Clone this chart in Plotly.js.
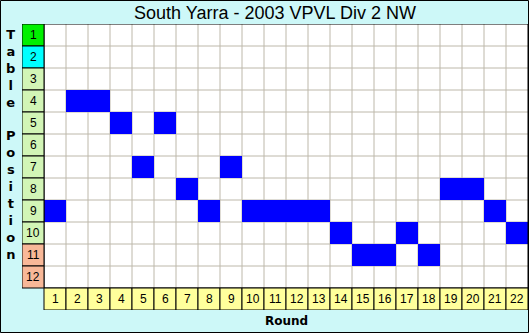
<!DOCTYPE html>
<html><head><meta charset="utf-8">
<script src="https://cdn.plot.ly/plotly-3.0.1.min.js"></script>
<style>html,body{margin:0;padding:0;background:#fff;overflow:hidden}</style>
</head><body><div id="chart" style="width:529px;height:333px"></div>
<script>
// ---- data ----
const rounds = [1,2,3,4,5,6,7,8,9,10,11,12,13,14,15,16,17,18,19,20,21,22];
const positions = [9,4,4,5,7,5,8,9,7,9,9,9,9,10,11,11,10,11,8,8,9,10];
const tablePositions = [1,2,3,4,5,6,7,8,9,10,11,12];
const roundLabels = ['1','2','3','4','5','6','7','8','9','10','11','12','13','14','15','16','17','18','19','20','21','22'];
const positionLabels = ['1','2','3','4','5','6','7','8','9','10','11','12'];
const titleText = 'South Yarra - 2003 VPVL Div 2 NW';
const xTitle = 'Round';
const yTitle = 'Table Position';

// ---- styles ----
const FONT = 'Liberation Sans, Arial, sans-serif';
const W = 529, H = 333, ML = 22, MR = 1, MT = 24, MB = 23;
const PW = W - ML - MR, PH = H - MT - MB;
const BG = '#cdf8f8';
function posColor(p){
  if (p === 1) return '#00f000';
  if (p === 2) return '#00ffff';
  if (p <= 10) return '#d2f5b6';
  return '#f8b898';
}
const nR = rounds.length, nP = tablePositions.length;
const labelRow = nP + 1;

// heatmap matrix from data
const z = tablePositions.map(p => rounds.map((r, i) => positions[i] === p ? 1 : 0));

const shapes = [];
// white grid background
shapes.push({type:'rect', xref:'x', yref:'y', x0:0.5, x1:nR+0.5, y0:0.5, y1:nP+0.5,
  fillcolor:'#ffffff', line:{width:0}, layer:'below'});
// grid lines
for (let i = 1; i < nR; i++) shapes.push({type:'line', xref:'x', yref:'y', x0:i+0.5, x1:i+0.5, y0:0.5, y1:nP+0.5,
  line:{color:'#bdb8aa', width:1}, layer:'below'});
for (let k = 1; k < nP; k++) shapes.push({type:'line', xref:'x', yref:'y', x0:0.5, x1:nR+0.5, y0:k+0.5, y1:k+0.5,
  line:{color:'#bdb8aa', width:1}, layer:'below'});
// grid border
shapes.push({type:'rect', xref:'x', yref:'y', x0:0.5, x1:nR+0.5, y0:0.5, y1:nP+0.5,
  fillcolor:'rgba(0,0,0,0)', line:{color:'#000', width:1}, layer:'above'});
// position label cells
tablePositions.forEach(p => shapes.push({type:'rect', xref:'x', yref:'y', x0:-0.5, x1:0.5, y0:p-0.5, y1:p+0.5,
  fillcolor:posColor(p), line:{color:'#000', width:1}, layer:'above'}));
// round label cells
rounds.forEach(r => shapes.push({type:'rect', xref:'x', yref:'y', x0:r-0.5, x1:r+0.5, y0:labelRow-0.5, y1:labelRow+0.5,
  fillcolor:'#ffff9c', line:{color:'#000', width:1}, layer:'above'}));
// image border
shapes.push({type:'rect', xref:'paper', yref:'paper',
  x0:(-ML+0.5)/PW, x1:(W-ML-0.5)/PW, y0:(-MB+0.5)/PH, y1:(H-MB-0.5)/PH,
  fillcolor:'rgba(0,0,0,0)', line:{color:'#000', width:1}, layer:'above'});

const annotations = [];
tablePositions.forEach((p, i) => annotations.push({x:0, y:p, xref:'x', yref:'y', text:positionLabels[i],
  showarrow:false, font:{family:FONT, size:12, color:'#000'}, xanchor:'center', yanchor:'middle'}));
rounds.forEach((r, i) => annotations.push({x:r, y:labelRow, xref:'x', yref:'y', text:roundLabels[i],
  showarrow:false, font:{family:FONT, size:12, color:'#000'}, xanchor:'center', yanchor:'middle'}));
annotations.push({x:(11-ML)/PW, y:1-(144-MT)/PH, xref:'paper', yref:'paper',
  text: yTitle.split('').map(c => c === ' ' ? '' : c).join('<br>'),
  showarrow:false, font:{family:'DejaVu Sans, sans-serif', size:13, color:'#000', weight:'bold'}, xanchor:'center', yanchor:'middle'});
annotations.push({x:(286-ML)/PW, y:1-(321-MT)/PH, xref:'paper', yref:'paper', text:'<b>'+xTitle+'</b>',
  showarrow:false, font:{family:'DejaVu Sans, sans-serif', size:12, color:'#000'}, xanchor:'center', yanchor:'middle'});

const trace = {type:'heatmap', x:rounds, y:tablePositions, z:z, zmin:0, zmax:1,
  colorscale:[[0,'rgba(0,0,0,0)'],[1,'#0000ff']], showscale:false, hoverinfo:'skip', xgap:0, ygap:0};

const layout = {
  width:W, height:H, margin:{l:ML, r:MR, t:MT, b:MB, pad:0},
  paper_bgcolor:BG, plot_bgcolor:'rgba(0,0,0,0)',
  title:{text:titleText, font:{family:FONT, size:18, color:'#000'}, x:(275-0)/W, xanchor:'center', y:1-13/H, yanchor:'middle'},
  xaxis:{range:[-0.5, nR+0.5], showgrid:false, zeroline:false, showticklabels:false, ticks:'', fixedrange:true},
  yaxis:{range:[labelRow+0.5, 0.5], showgrid:false, zeroline:false, showticklabels:false, ticks:'', fixedrange:true},
  shapes:shapes, annotations:annotations, showlegend:false
};
Plotly.newPlot('chart', [trace], layout, {staticPlot:true, displayModeBar:false});
</script></body></html>
